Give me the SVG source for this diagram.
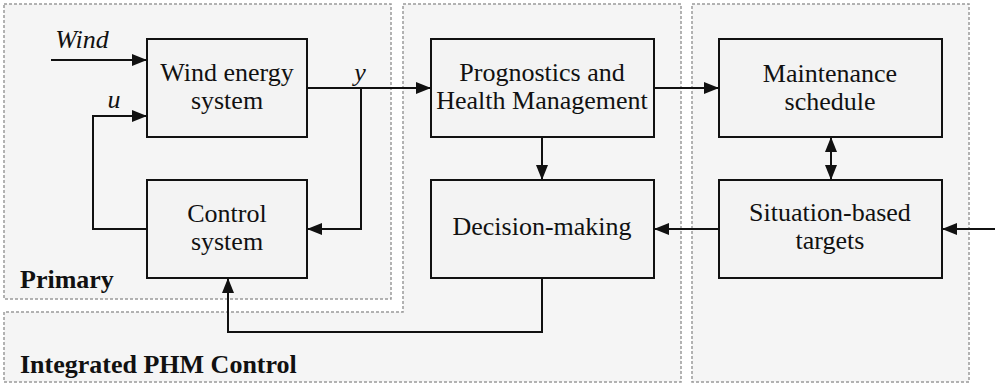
<svg xmlns="http://www.w3.org/2000/svg" width="995" height="385" viewBox="0 0 995 385">
<style>
.cont{fill:#f5f5f5;stroke:#9a9a9a;stroke-width:1.5;stroke-dasharray:3,2}
.box{fill:#f3f3f3;stroke:#111;stroke-width:2}
.t{font-size:26px;fill:#111;text-anchor:middle}
.i{font-style:italic}
.b{font-weight:bold;text-anchor:start}
.c{fill:none;stroke:#111;stroke-width:2}
</style>
<defs>
<marker id="ah" markerUnits="userSpaceOnUse" markerWidth="15" markerHeight="12" refX="15" refY="6" orient="auto-start-reverse" viewBox="0 0 15 12">
<path d="M0,0 L15,6 L0,12 z" fill="#111"/>
</marker>
</defs>
<rect width="995" height="385" fill="#fff"/>
<g font-family="'Liberation Serif', 'DejaVu Serif', serif">
<g id="containers">
<rect id="primary" class="cont" x="4" y="4" width="387" height="295"/>
<path id="integrated" class="cont" d="M403,4 H681 V382 H4 V312 H403 Z"/>
<rect id="right" class="cont" x="692" y="4" width="277" height="378"/>
<text class="t b" x="20" y="288">Primary</text>
<text class="t b" x="20" y="373">Integrated PHM Control</text>
</g>
<g id="connectors">
<path class="c" d="M51,60 H147" marker-end="url(#ah)"/>
<path class="c" d="M147,229 H93 V116 H147" marker-end="url(#ah)"/>
<path class="c" d="M307,88 H431" marker-end="url(#ah)"/>
<path class="c" d="M361,88 V229 H307" marker-end="url(#ah)"/>
<path class="c" d="M542,137 V180" marker-end="url(#ah)"/>
<path class="c" d="M654,88 H719" marker-end="url(#ah)"/>
<path class="c" d="M831,137 V180" marker-start="url(#ah)" marker-end="url(#ah)"/>
<path class="c" d="M719,229 H654" marker-end="url(#ah)"/>
<path class="c" d="M995,229 H942" marker-end="url(#ah)"/>
<path class="c" d="M542,278 V332 H228 V278" marker-end="url(#ah)"/>
<text class="t i" x="82" y="48">Wind</text>
<text class="t i" x="114" y="108">u</text>
<text class="t i" x="360" y="81">y</text>
</g>
<g id="wind-energy-system">
<rect class="box" x="147" y="39" width="160" height="98"/>
<text class="t" x="227" y="81">Wind energy</text>
<text class="t" x="227" y="109">system</text>
</g>
<g id="control-system">
<rect class="box" x="147" y="180" width="160" height="98"/>
<text class="t" x="227" y="222">Control</text>
<text class="t" x="227" y="250">system</text>
</g>
<g id="phm">
<rect class="box" x="431" y="39" width="223" height="98"/>
<text class="t" x="542" y="81">Prognostics and</text>
<text class="t" x="542" y="109">Health Management</text>
</g>
<g id="decision-making">
<rect class="box" x="431" y="180" width="223" height="98"/>
<text class="t" x="542" y="235">Decision-making</text>
</g>
<g id="maintenance-schedule">
<rect class="box" x="719" y="39" width="223" height="98"/>
<text class="t" x="830" y="82">Maintenance</text>
<text class="t" x="830" y="110">schedule</text>
</g>
<g id="situation-based-targets">
<rect class="box" x="719" y="180" width="223" height="98"/>
<text class="t" x="830" y="221">Situation-based</text>
<text class="t" x="830" y="249">targets</text>
</g>
</g>
</svg>
